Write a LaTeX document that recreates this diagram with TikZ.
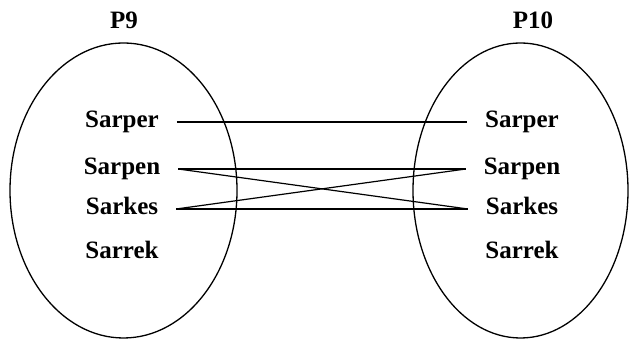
\documentclass[tikz,border=0pt]{standalone}
\usepackage{fontspec}
\setmainfont{Liberation Serif}
\usetikzlibrary{shapes.geometric}

\begin{document}
\begin{tikzpicture}[x=1pt,y=1pt,
  set/.style={draw,ellipse,line width=1.3pt,inner sep=0pt},
  title/.style={font=\fontsize{25}{30}\selectfont\bfseries},
  word/.style={font=\fontsize{25}{30}\selectfont\bfseries,inner sep=0pt,outer xsep=18pt,
    text height=17pt,text depth=5pt},
  link/.style={line width=1.2pt}]
  \useasboundingbox (0,0) rectangle (629,339);
  \node[set,minimum width=227pt,minimum height=295pt] (g9) at (123.5,148.5) {};
  \node[set,minimum width=215pt,minimum height=295pt] (g10) at (520.5,148.5) {};
  \node[title] (t9) at (124,319) {P9};
  \node[title] (t10) at (533,319) {P10};

  \node[word] (lper) at (122,217) {Sarper};
  \node[word] (lpen) at (122,170) {Sarpen};
  \node[word] (lkes) at (122,130) {Sarkes};
  \node[word] (lrek) at (122,86) {Sarrek};
  \node[word] (rper) at (522,217) {Sarper};
  \node[word] (rpen) at (522,170) {Sarpen};
  \node[word] (rkes) at (522,130) {Sarkes};
  \node[word] (rrek) at (522,86) {Sarrek};

  \draw[link] (lper.east) -- (rper.west);
  \draw[link] (lpen.east) -- (rpen.west);
  \draw[link] (lkes.east) -- (rkes.west);
  \draw[link] (lpen.east) -- (rkes.west);
  \draw[link] (lkes.east) -- (rpen.west);
\end{tikzpicture}
\end{document}
